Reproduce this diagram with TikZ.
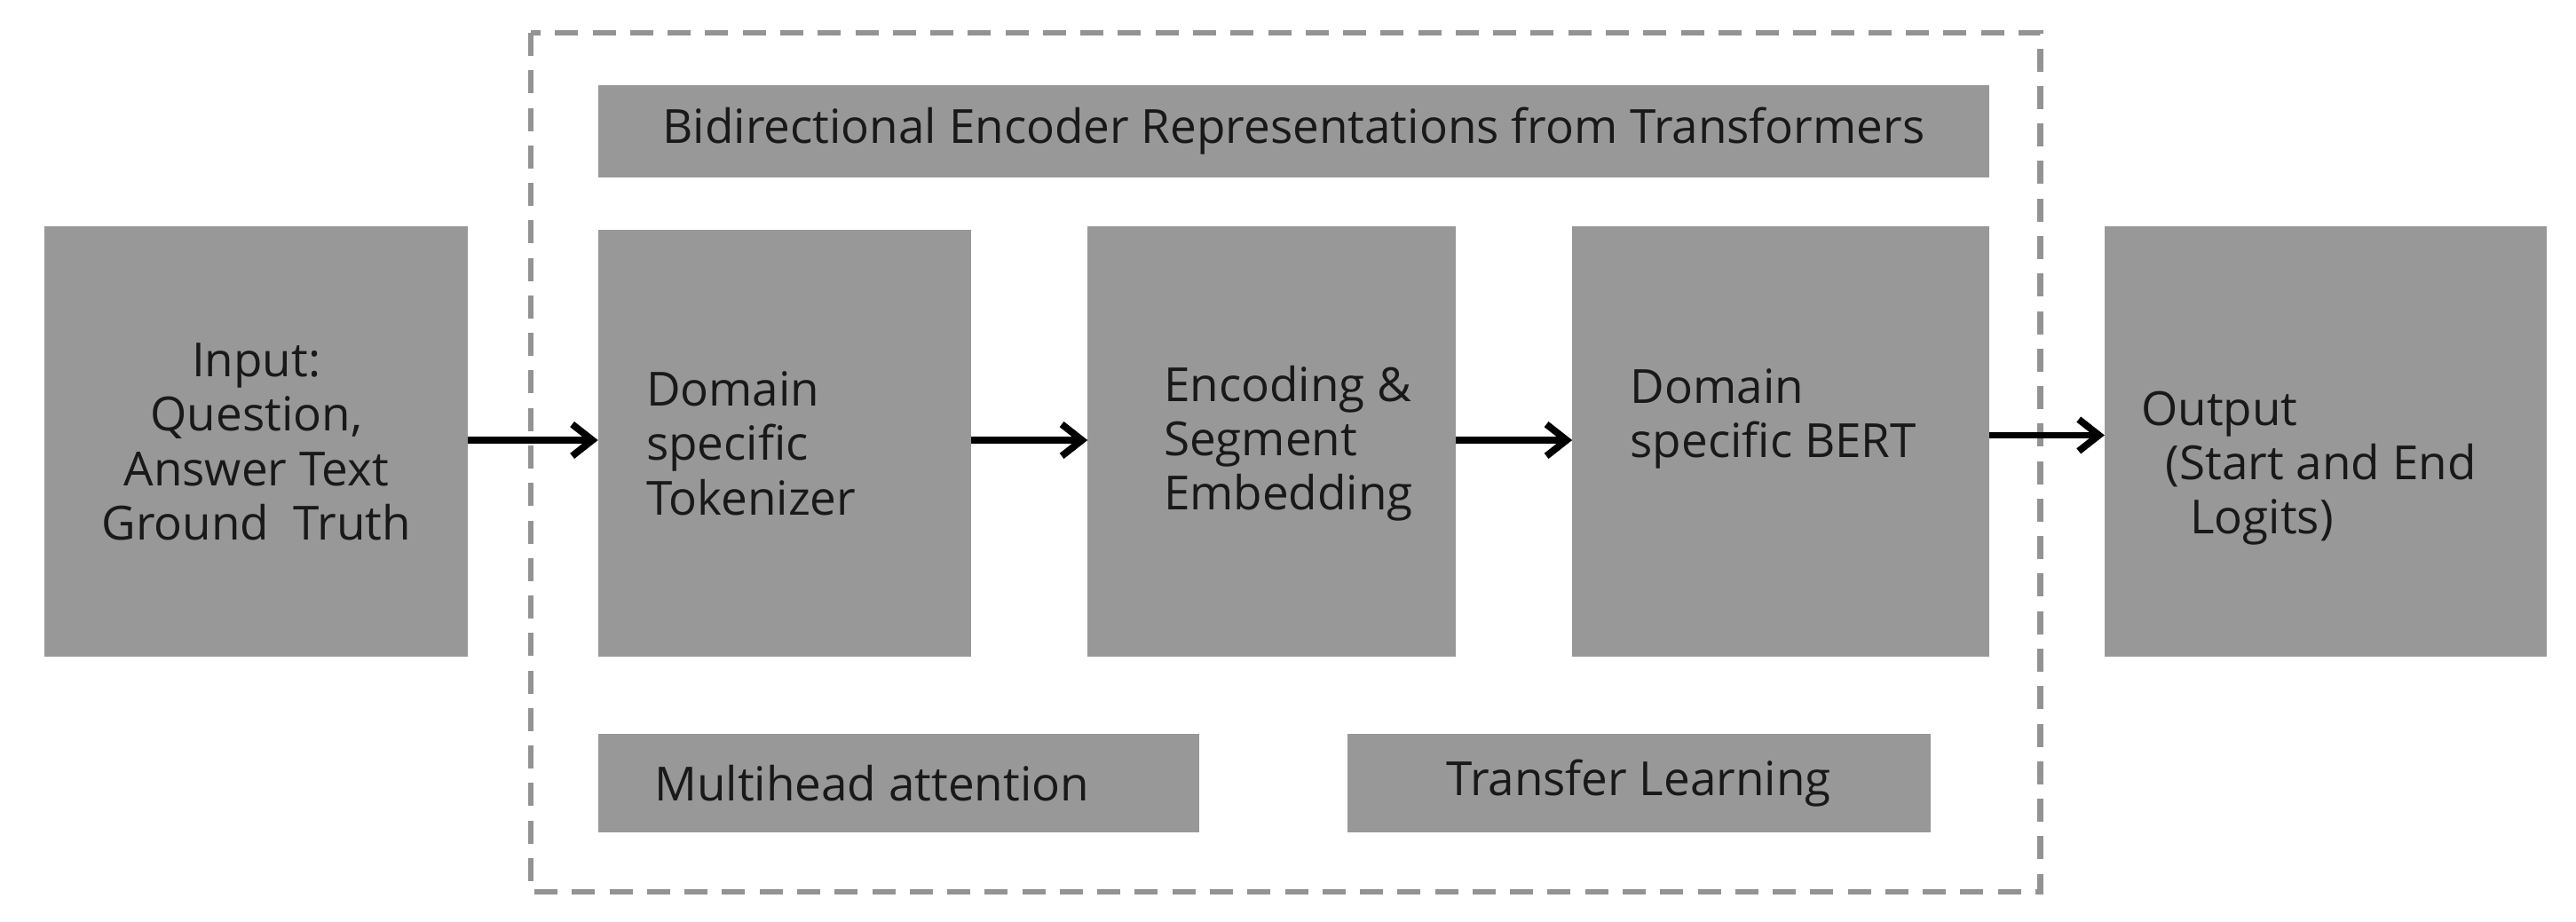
\documentclass[tikz,border=0pt]{standalone}
\usepackage{fontspec}
\setmainfont{Open Sans}
\usetikzlibrary{arrows.meta}
\definecolor{boxg}{RGB}{152,152,152}
\definecolor{txt}{RGB}{25,25,25}
\begin{document}
\begin{tikzpicture}[x=0.02cm,y=-0.02cm,
  fnt/.style={text=txt,font=\fontsize{16.3}{18.8}\selectfont},
  box/.style={fill=boxg,draw=none,inner sep=0pt,outer sep=0pt,fnt},
  lbl/.style={fnt,align=left,anchor=west,inner sep=0pt},
  arr/.style={-{Straight Barb[length=7pt,width=11pt]},line width=2.4pt,black}]
\useasboundingbox (0,0) rectangle (1568,561);
\draw[line width=2pt,draw=gray!85,dash pattern=on 8pt off 5pt] (323,20) rectangle (1242,543);
\node[box,minimum width=258*0.02cm,minimum height=262*0.02cm,align=center] (in) at (156,269) {Input:\\Question,\\Answer Text\\Ground\ \ Truth};
\node[box,minimum width=847*0.02cm,minimum height=56*0.02cm] (bert) at (787.5,80) {Bidirectional Encoder Representations from Transformers};
\node[box,minimum width=227*0.02cm,minimum height=260*0.02cm] (tok) at (477.5,270) {};
\node[lbl] at (393,270) {Domain\\specific\\Tokenizer};
\node[box,minimum width=224*0.02cm,minimum height=262*0.02cm] (enc) at (774,269) {};
\node[lbl] at (708,270) {Encoding \&\\Segment\\Embedding};
\node[box,minimum width=254*0.02cm,minimum height=262*0.02cm] (dbert) at (1084,269) {};
\node[lbl] at (992,255) {Domain\\specific BERT};
\node[box,minimum width=269*0.02cm,minimum height=262*0.02cm] (out) at (1415.5,269) {};
\node[lbl] at (1303,285) {Output\\\ \ (Start and End\\\ \ \ \ Logits)};
\node[box,minimum width=366*0.02cm,minimum height=60*0.02cm] (mh) at (547,477) {};
\node[lbl] at (398,477) {Multihead attention};
\node[box,minimum width=355*0.02cm,minimum height=60*0.02cm] (tl) at (997.5,477) {Transfer Learning};
\draw[arr] (in.east |- 0,268) -- (tok.west |- 0,268);
\draw[arr] (tok.east |- 0,268) -- (enc.west |- 0,268);
\draw[arr] (enc.east |- 0,268) -- (dbert.west |- 0,268);
\draw[arr] (dbert.east |- 0,265) -- (out.west |- 0,265);
\end{tikzpicture}
\end{document}
